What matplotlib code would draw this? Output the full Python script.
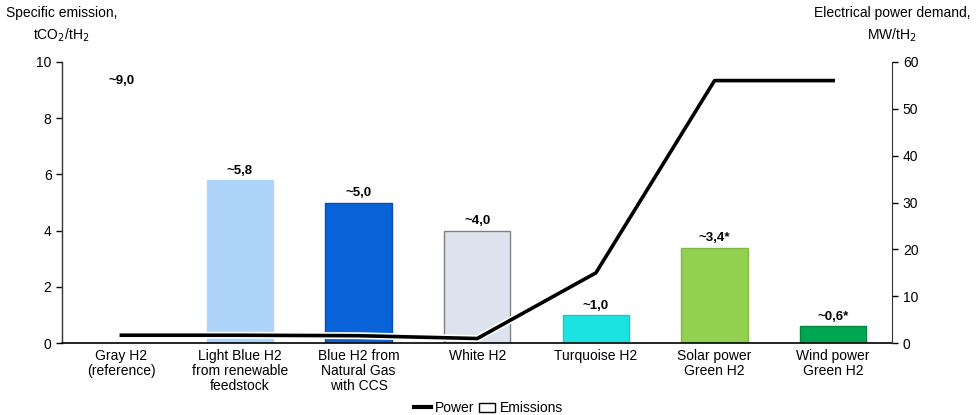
import matplotlib.pyplot as plt
import matplotlib.patheffects as pe
from matplotlib.lines import Line2D
from matplotlib.patches import Patch

plt.rcParams['font.family'] = ['Liberation Sans', 'DejaVu Sans']

categories = ["Gray H2\n(reference)", "Light Blue H2\nfrom renewable\nfeedstock",
              "Blue H2 from\nNatural Gas\nwith CCS", "White H2", "Turquoise H2",
              "Solar power\nGreen H2", "Wind power\nGreen H2"]
emissions = [9.0, 5.8, 5.0, 4.0, 1.0, 3.4, 0.6]
emission_labels = ["~9,0", "~5,8", "~5,0", "~4,0", "~1,0", "~3,4*", "~0,6*"]
power = [1.7, 1.7, 1.6, 1.0, 15.0, 56.0, 56.0]

bar_colors = ["white", "#aed5f9", "#0a63d8", "#dde3ee", "#1de2e2", "#92d050", "#00a651"]
edge_colors = ["white", "#aed5f9", "#0a4fb0", "#7f7f7f", "#19c8c8", "#7fba45", "#00883f"]

fig = plt.figure(figsize=(9.77, 4.15), dpi=100)
ax = fig.add_axes([0.0635, 0.173, 0.85, 0.678])
x = range(len(categories))

ax.bar(x, emissions, width=0.56, color=bar_colors, edgecolor=edge_colors, linewidth=1, zorder=2)
for xi, v, lab in zip(x, emissions, emission_labels):
    ax.text(xi, v + 0.12, lab, ha='center', va='bottom', fontsize=9.5, fontweight='bold')

ax.set_xlim(-0.5, 6.5)
ax.set_ylim(0, 10)
ax.set_yticks(range(0, 11, 2))
ax.set_xticks(list(x))
ax.set_xticklabels(categories, fontsize=10, linespacing=1.1)
ax.tick_params(axis='x', length=0, pad=4)
ax.tick_params(axis='y', labelsize=10, length=4, width=1)
ax.spines['top'].set_visible(False)
ax.spines['right'].set_visible(False)
ax.spines['bottom'].set_linewidth(1.2)
ax.spines['left'].set_linewidth(1)
ax.spines['left'].set_color('#333333')

ax2 = ax.twinx()
ax2.set_ylim(0, 60)
ax2.set_yticks(range(0, 61, 10))
ax2.tick_params(axis='y', labelsize=10, length=4, width=1)
for s in ['top', 'left', 'bottom']:
    ax2.spines[s].set_visible(False)
ax2.spines['right'].set_color('#333333')
ax2.plot(list(x), power, color='black', linewidth=2.6, zorder=3,
         path_effects=[pe.Stroke(linewidth=5, foreground='white'), pe.Normal()])

fig.text(0.063, 0.94, "Specific emission,\ntCO$_2$/tH$_2$", ha='center', va='center',
         fontsize=10, linespacing=1.45)
fig.text(0.913, 0.94, "Electrical power demand,\nMW/tH$_2$", ha='center', va='center',
         fontsize=10, linespacing=1.45)

handles = [Line2D([0], [0], color='black', linewidth=3),
           Patch(facecolor='white', edgecolor='black', linewidth=1)]
fig.legend(handles, ["Power", "Emissions"], loc='center', bbox_to_anchor=(0.5, 0.016),
           ncol=2, frameon=False, fontsize=10, handlelength=1.2, handletextpad=0.3,
           columnspacing=0.3)

fig.savefig("out.png", dpi=100)
